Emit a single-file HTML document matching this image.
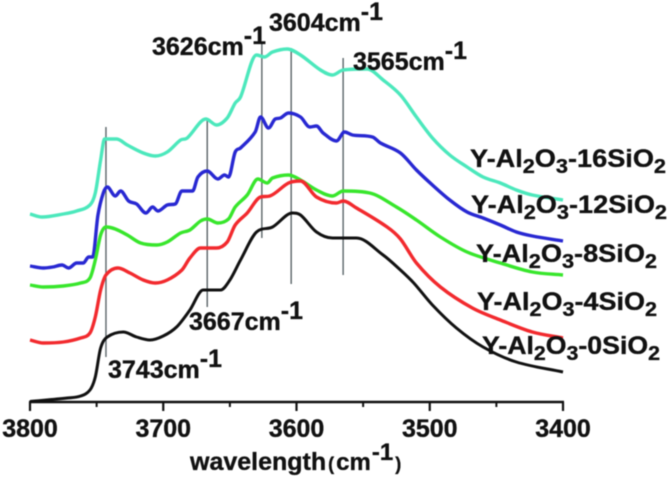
<!DOCTYPE html>
<html>
<head>
<meta charset="utf-8">
<title>Spectra</title>
<style>
html,body{margin:0;padding:0;background:#fff;}
svg{display:block;filter:blur(0.4px);}
text{font-family:"Liberation Sans",sans-serif;font-weight:bold;fill:#111;stroke:#111;stroke-width:0.35px;}
</style>
</head>
<body>
<svg id="chart" width="669" height="479" viewBox="0 0 669 479" xmlns="http://www.w3.org/2000/svg">
  <g id="peaks"></g>
  <g id="series"></g>
  <g id="axis"></g>

  <g font-size="25">
    <text x="108" y="378">3743cm<tspan dy="-11">-1</tspan></text>
    <text x="189" y="330">3667cm<tspan dy="-11">-1</tspan></text>
    <text x="152" y="55">3626cm<tspan dy="-11">-1</tspan></text>
    <text x="269" y="31">3604cm<tspan dy="-11">-1</tspan></text>
    <text x="353" y="70">3565cm<tspan dy="-11">-1</tspan></text>
  </g>

  <g font-size="25">
    <text x="470" y="167" textLength="196" lengthAdjust="spacingAndGlyphs">Y-Al<tspan font-size="20" dy="6">2</tspan><tspan dy="-6">O</tspan><tspan font-size="20" dy="6">3</tspan><tspan dy="-6">-16SiO</tspan><tspan font-size="20" dy="6">2</tspan></text>
    <text x="471" y="213" textLength="196" lengthAdjust="spacingAndGlyphs">Y-Al<tspan font-size="20" dy="6">2</tspan><tspan dy="-6">O</tspan><tspan font-size="20" dy="6">3</tspan><tspan dy="-6">-12SiO</tspan><tspan font-size="20" dy="6">2</tspan></text>
    <text x="476" y="262" textLength="181" lengthAdjust="spacingAndGlyphs">Y-Al<tspan font-size="20" dy="6">2</tspan><tspan dy="-6">O</tspan><tspan font-size="20" dy="6">3</tspan><tspan dy="-6">-8SiO</tspan><tspan font-size="20" dy="6">2</tspan></text>
    <text x="477" y="310" textLength="180" lengthAdjust="spacingAndGlyphs">Y-Al<tspan font-size="20" dy="6">2</tspan><tspan dy="-6">O</tspan><tspan font-size="20" dy="6">3</tspan><tspan dy="-6">-4SiO</tspan><tspan font-size="20" dy="6">2</tspan></text>
    <text x="482" y="354" textLength="178" lengthAdjust="spacingAndGlyphs">Y-Al<tspan font-size="20" dy="6">2</tspan><tspan dy="-6">O</tspan><tspan font-size="20" dy="6">3</tspan><tspan dy="-6">-0SiO</tspan><tspan font-size="20" dy="6">2</tspan></text>
  </g>

  <text x="190" y="470" font-size="25">wavelength<tspan dx="2" font-size="18">(</tspan><tspan dx="2" font-size="24">cm</tspan><tspan dy="-10" dx="1" font-size="24">-1</tspan><tspan dy="10" dx="2" font-size="18">)</tspan></text>
</svg>

<script>
var majorTicks = [3800, 3700, 3600, 3500, 3400];
var minorTicks = [3750, 3650, 3550, 3450];

var peakWavenumbers = [3743, 3667, 3626, 3604, 3565];
var peakTops = [275, 282, 359, 354, 344];
var peakBottoms = [45, 95, 164, 118, 127];

var wnCyan = [3800,3791,3775,3765,3755,3751,3747,3744,3740,3735,3727,3715,3706,3697,3687,3682,3672,3668,3660,3652,3646,3642,3630,3624,3618,3607,3597,3582,3573,3565,3547,3535,3522,3510,3498,3485,3472,3460,3447,3435,3423,3400];
var valCyan = [188,185,188,191,197,209,242,263,263,263,257,249,246,250,262,264,280,283,277,284,299,305,347,345,350,353,347,332,327,332,333,322,307,285,264,247,235,225,219,212,207,202];

var wnBlue = [3800,3790,3783,3776,3771,3765,3760,3756,3753,3749,3745,3742,3736,3732,3726,3720,3713,3708,3704,3697,3691,3686,3678,3674,3667,3659,3654,3651,3646,3642,3631,3627,3621,3616,3612,3606,3597,3590,3585,3580,3570,3564,3558,3543,3537,3522,3510,3498,3485,3472,3460,3447,3435,3423,3400];
var valBlue = [136,134,135,137,134,139,139,145,145,187,209,215,206,211,201,198,189,195,191,197,198,211,211,225,231,223,227,225,250,254,270,285,274,283,284,289,285,275,276,269,261,270,267,265,259,249,232,217,202,190,184,177,170,166,161];

var wnGreen = [3800,3790,3775,3762,3755,3751,3747,3743,3736,3727,3717,3705,3697,3687,3680,3672,3667,3659,3651,3646,3637,3629,3622,3618,3606,3597,3585,3573,3565,3545,3525,3510,3492,3472,3447,3423,3400];
var valGreen = [117,115,116,119,124,142,167,175,173,167,159,157,160,169,172,181,183,179,183,195,207,223,219,224,227,222,212,206,211,209,195,182,165,150,139,130,127];

var wnRed = [3800,3790,3775,3762,3755,3751,3747,3743,3734,3725,3715,3706,3697,3686,3680,3672,3660,3652,3646,3637,3627,3620,3606,3597,3585,3570,3565,3555,3532,3522,3510,3492,3468,3447,3423,3400];
var valRed = [62,59,60,64,69,85,112,127,134,129,122,119,122,132,144,154,154,160,177,189,205,206,219,221,205,199,201,194,175,163,139,115,94,82,70,64];

var wnBlack = [3800,3772,3762,3755,3751,3747,3742,3730,3720,3710,3700,3690,3680,3670,3657,3650,3642,3630,3618,3603,3597,3585,3573,3555,3535,3522,3512,3498,3480,3460,3435,3400];
var valBlack = [0.5,4,6,12,25,54,65,70,65,62,66,75,92,112,112,122,142,170,175,189,187,170,164,164,147,132,119,97,74,55,40,30];

var NS = 'http://www.w3.org/2000/svg';
function xScale(w) { return 30 + (3800 - w) * 533 / 400; }
function yScale(v) { return 402 - v; }

function make(tag, attrs, parent) {
  var el = document.createElementNS(NS, tag);
  for (var k in attrs) { el.setAttribute(k, attrs[k]); }
  parent.appendChild(el);
  return el;
}

/* monotone cubic path using limited central tangents: no overshoot, no stair-stepping */
function smoothPath(xs, ys) {
  var n = xs.length, s = [], m = [], i;
  for (i = 0; i < n - 1; i++) { s[i] = (ys[i + 1] - ys[i]) / (xs[i + 1] - xs[i]); }
  m[0] = s[0];
  m[n - 1] = s[n - 2];
  for (i = 1; i < n - 1; i++) {
    if (s[i - 1] * s[i] <= 0) { m[i] = 0; }
    else {
      var avg = (ys[i + 1] - ys[i - 1]) / (xs[i + 1] - xs[i - 1]);
      var lim = 3 * Math.min(Math.abs(s[i - 1]), Math.abs(s[i]));
      m[i] = (avg < 0 ? -1 : 1) * Math.min(Math.abs(avg), lim);
    }
  }
  var d = 'M' + xs[0].toFixed(2) + ' ' + ys[0].toFixed(2);
  for (i = 0; i < n - 1; i++) {
    var h = (xs[i + 1] - xs[i]) / 3;
    d += 'C' + (xs[i] + h).toFixed(2) + ' ' + (ys[i] + m[i] * h).toFixed(2) + ' ' + (xs[i + 1] - h).toFixed(2) + ' ' + (ys[i + 1] - m[i + 1] * h).toFixed(2) + ' ' + xs[i + 1].toFixed(2) + ' ' + ys[i + 1].toFixed(2);
  }
  return d;
}

var peaksGroup = document.getElementById('peaks');
var seriesGroup = document.getElementById('series');
var axisGroup = document.getElementById('axis');

peakWavenumbers.forEach(function (w, i) {
  var l = make('line', {x1: xScale(w), x2: xScale(w), y1: yScale(peakTops[i]), y2: yScale(peakBottoms[i]), stroke: '#5a6468', 'stroke-width': 1.4}, peaksGroup);
  
  
});

function drawSeries(name, wn, val, color, width) {
  var p = make('path', {d: smoothPath(wn.map(xScale), val.map(yScale)), fill: 'none', stroke: color, 'stroke-width': width, 'stroke-linejoin': 'round'}, seriesGroup);
  
  
}
drawSeries('series-16sio2', wnCyan, valCyan, '#4ce8bc', 3.4);
drawSeries('series-12sio2', wnBlue, valBlue, '#2828d2', 3.4);
drawSeries('series-8sio2', wnGreen, valGreen, '#38e62c', 3.4);
drawSeries('series-4sio2', wnRed, valRed, '#f22a2e', 3.4);
drawSeries('series-0sio2', wnBlack, valBlack, '#111111', 3);

var axisLine = make('line', {x1: xScale(3800) - 1, x2: xScale(3400) + 1, y1: 402, y2: 402, stroke: '#111', 'stroke-width': 2.6}, axisGroup);



majorTicks.forEach(function (w) {
  var t = make('line', {x1: xScale(w), x2: xScale(w), y1: 402, y2: 411, stroke: '#111', 'stroke-width': 2.2}, axisGroup);
  
  
  var lab = make('text', {x: xScale(w), y: 437, 'font-size': 25, 'text-anchor': 'middle'}, axisGroup);
  lab.textContent = String(w);
  
  
});
minorTicks.forEach(function (w) {
  var t = make('line', {x1: xScale(w), x2: xScale(w), y1: 402, y2: 407, stroke: '#111', 'stroke-width': 2}, axisGroup);
  
  
});
</script>
</body>
</html>
